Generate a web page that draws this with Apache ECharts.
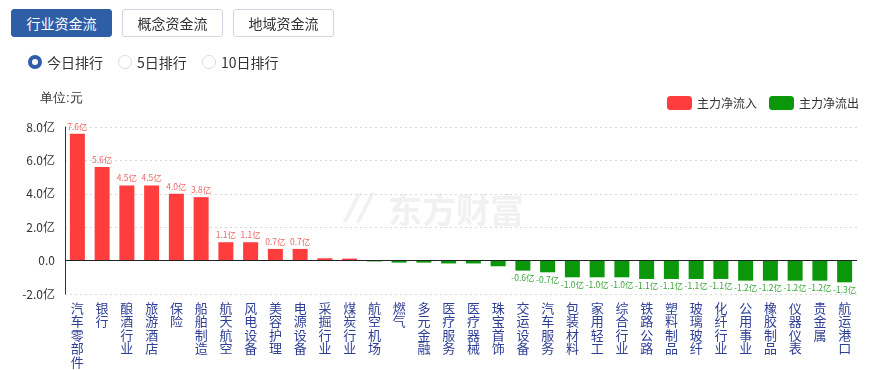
<!DOCTYPE html>
<html><head><meta charset="utf-8">
<script src="https://cdn.jsdelivr.net/npm/echarts@6/dist/echarts.min.js"></script>
<style>
html,body{margin:0;padding:0;background:#fff;width:888px;height:370px;overflow:hidden;font-family:"Noto Sans CJK SC","Microsoft YaHei",sans-serif;}
#chart{position:absolute;left:0;top:0;width:888px;height:370px;}
.btn{position:absolute;top:9px;height:26px;line-height:26px;width:99px;text-align:center;font-size:14px;color:#333;border:1px solid #cfd6e0;border-radius:3px;background:#fff;z-index:2;}
.btn.on{background:#2d5ea6;color:#fff;border-color:#2d5ea6;}
.radio{position:absolute;top:53px;font-size:14px;color:#333;height:18px;line-height:18px;z-index:2;}
.radio i{position:absolute;left:0;top:2px;width:12px;height:12px;border-radius:50%;border:1px solid #d5dbe3;box-sizing:content-box;}
.radio.on i{border:4px solid #2d5ea6;width:6px;height:6px;background:#fff;}
.radio span{position:absolute;left:19px;top:0;white-space:nowrap;}
</style></head>
<body>
<div class="btn on" style="left:11px">行业资金流</div>
<div class="btn" style="left:122px">概念资金流</div>
<div class="btn" style="left:233px">地域资金流</div>
<div class="radio on" style="left:28px"><i></i><span>今日排行</span></div>
<div class="radio" style="left:118px"><i></i><span>5日排行</span></div>
<div class="radio" style="left:202px"><i></i><span>10日排行</span></div>
<div id="chart"></div>
<script>
const categories = ['汽车零部件','银行','酿酒行业','旅游酒店','保险','船舶制造','航天航空','风电设备','美容护理','电源设备','采掘行业','煤炭行业','航空机场','燃气','多元金融','医疗服务','医疗器械','珠宝首饰','交运设备','汽车服务','包装材料','家用轻工','综合行业','铁路公路','塑料制品','玻璃玻纤','化纤行业','公用事业','橡胶制品','仪器仪表','贵金属','航运港口'];
const netFlow = [7.6,5.6,4.5,4.5,4.0,3.8,1.1,1.1,0.7,0.7,0.14,0.12,-0.05,-0.12,-0.12,-0.17,-0.17,-0.34,-0.6,-0.7,-1.0,-1.0,-1.0,-1.1,-1.1,-1.1,-1.1,-1.2,-1.2,-1.2,-1.2,-1.3];
const yTicks = {min:-2, max:8, interval:2};
const seriesNames = ['主力净流入','主力净流出'];

const inflow = netFlow.map(v => v >= 0 ? v : '-');
const outflow = netFlow.map(v => v < 0 ? v : '-');
const labelFmt = p => (typeof p.value === 'number' && Math.abs(p.value) >= 0.5) ? p.value.toFixed(1) + '亿' : '';

const chart = echarts.init(document.getElementById('chart'), null, {renderer:'canvas'});
chart.setOption({
  animation:false,
  textStyle:{fontFamily:'"Noto Sans CJK SC","Microsoft YaHei",sans-serif'},
  graphic:[
    {type:'text', left:40, top:92, style:{text:'单位:元', fontSize:13, fill:'#333', font:'13px "Noto Sans CJK SC"'}},
    {type:'text', left:388, top:193, z:-1, style:{text:'东方财富', fill:'#f1f1f1', font:'bold 34px "Noto Sans CJK SC"'}},
    {type:'text', left:346, top:192, z:-1, style:{text:'//', fill:'#f1f1f1', font:'italic bold 36px "DejaVu Sans"'}}
  ],
  legend:{
    right:24, top:91, itemWidth:25, itemHeight:14, itemGap:12, icon:'roundRect',
    textStyle:{fontSize:12, color:'#333'},
    data:seriesNames
  },
  grid:{left:65, right:31, top:127, bottom:76},
  xAxis:{
    type:'category', data:categories,
    axisLine:{onZero:false, show:false}, axisTick:{show:false},
    axisLabel:{interval:0, margin:7, color:'#2f3f96', fontSize:13, lineHeight:13.5, verticalAlign:'top',
      formatter: v => v.split('').join('\n')}
  },
  yAxis:{
    type:'value', min:yTicks.min, max:yTicks.max, interval:yTicks.interval,
    axisLine:{show:true, lineStyle:{color:'#333'}}, axisTick:{show:false},
    axisLabel:{color:'#333', fontSize:12, margin:10, formatter: v => v === 0 ? '0.0' : v.toFixed(1) + '亿'},
    splitLine:{show:true, lineStyle:{type:[2,3], color:'#d8d8d8'}}
  },
  series:[
    {name:seriesNames[0], type:'bar', stack:'f', data:inflow, barWidth:15,
      itemStyle:{color:'#ff3d3d'},
      label:{show:true, position:'top', distance:3, fontSize:8.5, color:'#ee6666', formatter:labelFmt},
      markLine:{silent:true, symbol:'none', label:{show:false}, lineStyle:{color:'#222', type:'solid', width:1},
        data:[{yAxis:0}]}
    },
    {name:seriesNames[1], type:'bar', stack:'f', data:outflow, barWidth:15,
      itemStyle:{color:'#0a980a'},
      label:{show:true, position:'bottom', distance:3, fontSize:8.5, color:'#3aa53a', formatter:labelFmt}
    }
  ]
});
</script>
</body></html>
